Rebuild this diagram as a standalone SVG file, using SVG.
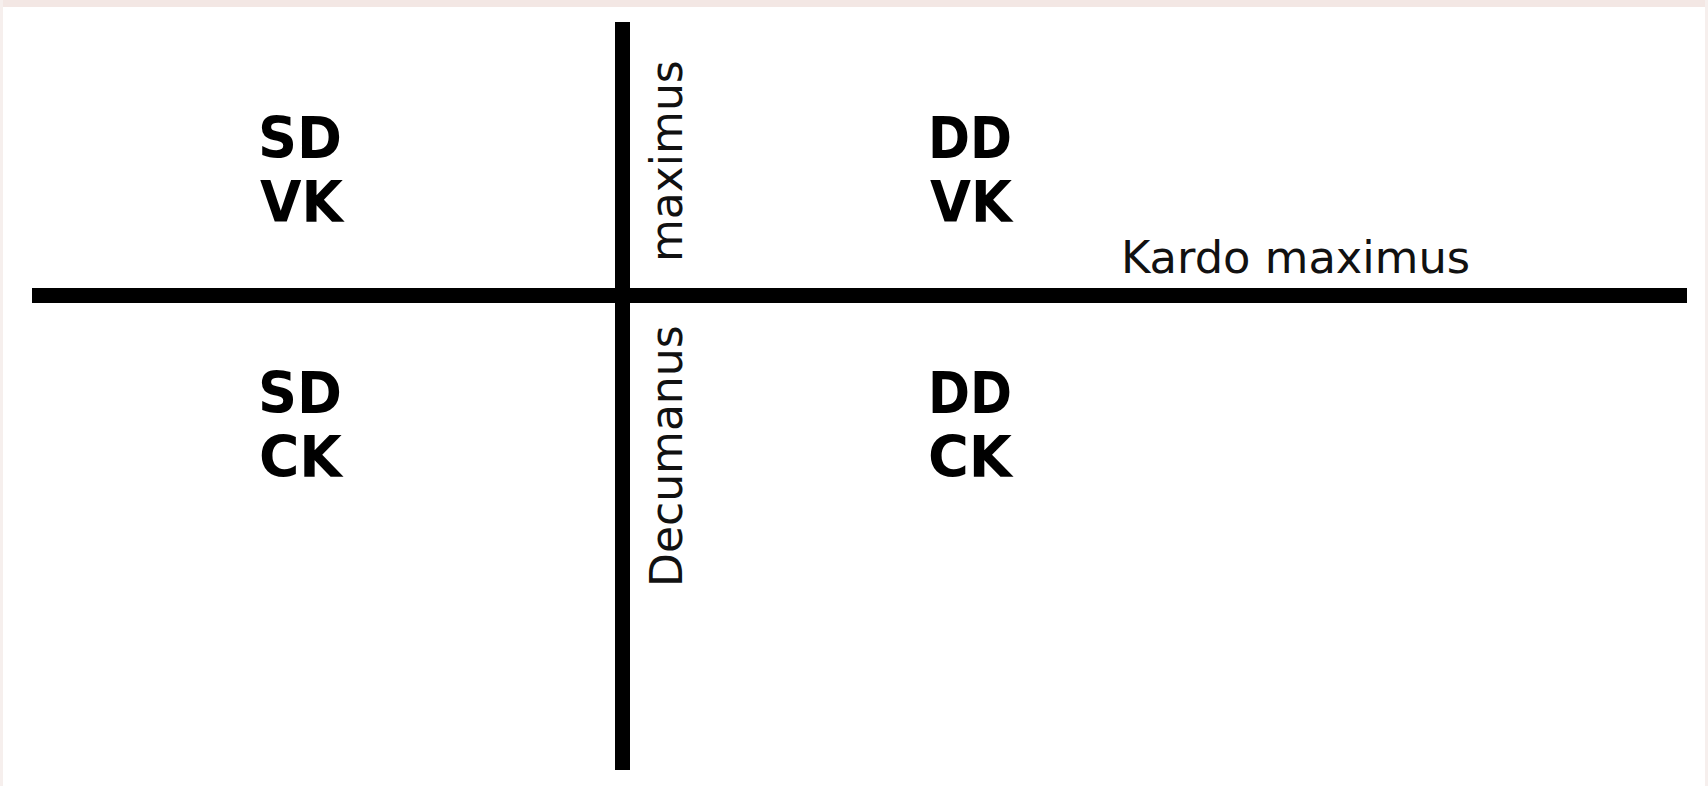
<svg xmlns="http://www.w3.org/2000/svg" width="1708" height="786" viewBox="0 0 1708 786">
<style>
.road{stroke:#000;stroke-width:15;stroke-linecap:butt;fill:none}
.lbl{font-family:"DejaVu Sans","Liberation Sans",sans-serif;font-size:44px;fill:#111}
.q{font-family:"DejaVu Sans","Liberation Sans",sans-serif;font-size:57px;font-weight:bold;fill:#000}
</style>
<rect x="0" y="0" width="1708" height="786" fill="#ffffff"/>
<rect x="0" y="0" width="1708" height="7" fill="#f3e7e4"/>
<rect x="0" y="0" width="3" height="786" fill="#f6efed"/>
<rect x="1705" y="0" width="3" height="786" fill="#f6efed"/>
<g id="roads">
<line class="road" x1="622.5" y1="22" x2="622.5" y2="770"/>
<line class="road" x1="32" y1="295.5" x2="1687" y2="295.5"/>
</g>
<g id="kardo-label"><text class="lbl" x="1121" y="273" style="font-size:44.8px">Kardo maximus</text></g>
<g id="maximus-label"><text class="lbl" transform="translate(682,262) rotate(-90)">maximus</text></g>
<g id="decumanus-label"><text class="lbl" transform="translate(682,587) rotate(-90)">Decumanus</text></g>
<g id="nw"><text class="q" x="258" y="158" textLength="84" lengthAdjust="spacingAndGlyphs">SD</text><text class="q" x="260" y="222" textLength="83" lengthAdjust="spacingAndGlyphs">VK</text></g>
<g id="ne"><text class="q" x="928" y="158" textLength="84" lengthAdjust="spacingAndGlyphs">DD</text><text class="q" x="930" y="222" textLength="82" lengthAdjust="spacingAndGlyphs">VK</text></g>
<g id="sw"><text class="q" x="258" y="413" textLength="84" lengthAdjust="spacingAndGlyphs">SD</text><text class="q" x="259" y="477" textLength="83" lengthAdjust="spacingAndGlyphs">CK</text></g>
<g id="se"><text class="q" x="928" y="413" textLength="84" lengthAdjust="spacingAndGlyphs">DD</text><text class="q" x="928" y="477" textLength="84" lengthAdjust="spacingAndGlyphs">CK</text></g>
</svg>
